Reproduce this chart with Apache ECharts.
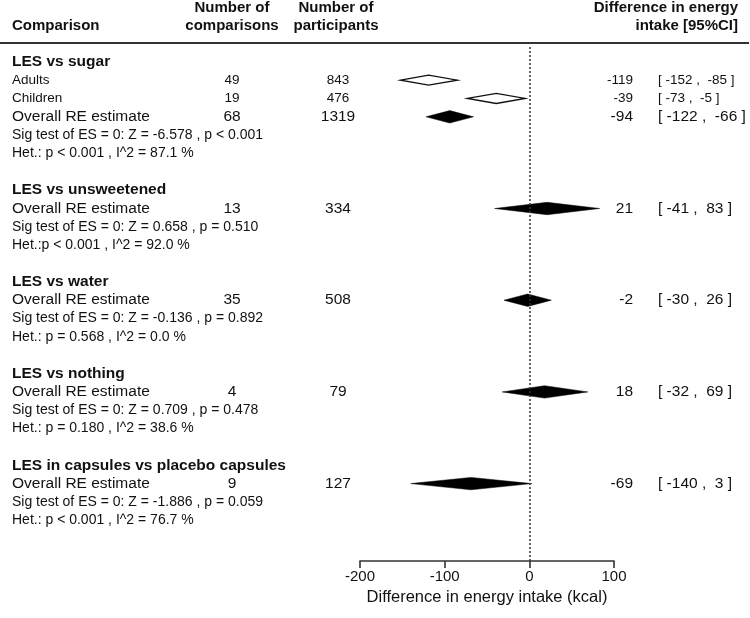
<!DOCTYPE html>
<html><head><meta charset="utf-8">
<script src="https://cdn.jsdelivr.net/npm/echarts@6/dist/echarts.min.js"></script>
<style>html,body{margin:0;padding:0;background:#fff}#c{width:750px;height:618px}</style>
</head><body><div id="c"></div>
<script>
// ---- data ----
const groupTitles = ["LES vs sugar", "LES vs unsweetened", "LES vs water", "LES vs nothing", "LES in capsules vs placebo capsules"];
const groupSig = [
  "Sig test of ES = 0: Z = -6.578 , p < 0.001",
  "Sig test of ES = 0: Z = 0.658 , p = 0.510",
  "Sig test of ES = 0: Z = -0.136 , p = 0.892",
  "Sig test of ES = 0: Z = 0.709 , p = 0.478",
  "Sig test of ES = 0: Z = -1.886 , p = 0.059"
];
const groupHet = [
  "Het.: p < 0.001 , I^2 = 87.1 %",
  "Het.:p < 0.001 , I^2 = 92.0 %",
  "Het.: p = 0.568 , I^2 = 0.0 %",
  "Het.: p = 0.180 , I^2 = 38.6 %",
  "Het.: p < 0.001 , I^2 = 76.7 %"
];
const estLabels = ["Adults", "Children", "Overall RE estimate", "Overall RE estimate", "Overall RE estimate", "Overall RE estimate", "Overall RE estimate"];
const estGroup = [0, 0, 0, 1, 2, 3, 4];
const estOverall = [false, false, true, true, true, true, true];
const nComparisons = [49, 19, 68, 13, 35, 4, 9];
const nParticipants = [843, 476, 1319, 334, 508, 79, 127];
const estimate = [-119, -39, -94, 21, -2, 18, -69];
const ciLower = [-152, -73, -122, -41, -30, -32, -140];
const ciUpper = [-85, -5, -66, 83, 26, 69, 3];
const xTickValues = [-200, -100, 0, 100];
const headerComparison = "Comparison";
const headerNComp = ["Number of", "comparisons"];
const headerNPart = ["Number of", "participants"];
const headerEffect = ["Difference in energy", "intake [95%CI]"];
const xAxisTitle = "Difference in energy intake (kcal)";

// ---- row layout ----
const titleRow = [], sigRow = [], hetRow = [], estRow = [];
let r = 0;
groupTitles.forEach((t, g) => {
  titleRow[g] = r++;
  estGroup.forEach((eg, i) => { if (eg === g) estRow[i] = r++; });
  sigRow[g] = r++;
  hetRow[g] = r++;
  r++;
});

const FONT = "'Liberation Sans', Arial, Helvetica, sans-serif";
const TXT = "#111";
const texts = [];
groupTitles.forEach((t, g) => {
  texts.push({row: titleRow[g], x: 12, align: 'left', text: t, size: 15.5, weight: 'bold'});
  texts.push({row: sigRow[g], x: 12, align: 'left', text: groupSig[g], size: 14, weight: 'normal'});
  texts.push({row: hetRow[g], x: 12, align: 'left', text: groupHet[g], size: 14, weight: 'normal'});
});
estLabels.forEach((lab, i) => {
  const s = estOverall[i] ? 15.5 : 13.5;
  const row = estRow[i];
  texts.push({row, x: 12, align: 'left', text: lab, size: s, weight: 'normal'});
  texts.push({row, x: 232, align: 'center', text: String(nComparisons[i]), size: s, weight: 'normal'});
  texts.push({row, x: 338, align: 'center', text: String(nParticipants[i]), size: s, weight: 'normal'});
  texts.push({row, x: 633, align: 'right', text: String(estimate[i]), size: s, weight: 'normal'});
  texts.push({row, x: 658, align: 'left', text: '[ ' + ciLower[i] + ' ,  ' + ciUpper[i] + ' ]', size: s, weight: 'normal'});
});

const diamonds = estimate.map((e, i) => [e, estRow[i], ciLower[i], ciUpper[i]]);

const chart = echarts.init(document.getElementById('c'), null, {renderer: 'canvas'});
chart.setOption({
  backgroundColor: '#fff',
  animation: false,
  grid: {left: 360, right: 136, top: 47, bottom: 57, containLabel: false},
  xAxis: {
    type: 'value', position: 'bottom',
    min: xTickValues[0], max: xTickValues[xTickValues.length - 1], interval: 100,
    axisLine: {show: true, onZero: false, lineStyle: {color: '#333', width: 1.6}},
    axisTick: {show: true, length: 7, lineStyle: {color: '#333', width: 1.6}},
    axisLabel: {color: TXT, fontSize: 15, fontFamily: FONT, margin: 8},
    splitLine: {show: false},
    name: xAxisTitle, nameLocation: 'middle', nameGap: 20,
    nameTextStyle: {color: TXT, fontSize: 16.5, fontFamily: FONT, verticalAlign: 'top'}
  },
  yAxis: {type: 'value', inverse: true, min: -0.807, max: 27.22, show: false},
  graphic: [
    {type: 'line', shape: {x1: 0, y1: 43, x2: 749, y2: 43}, style: {stroke: '#333', lineWidth: 2}},
    {type: 'text', x: 12, y: 26, style: {text: headerComparison, font: 'bold 15px ' + FONT, fill: TXT, align: 'left', verticalAlign: 'middle'}},
    {type: 'text', x: 232, y: 7.5, style: {text: headerNComp[0], font: 'bold 15px ' + FONT, fill: TXT, align: 'center', verticalAlign: 'middle'}},
    {type: 'text', x: 232, y: 26, style: {text: headerNComp[1], font: 'bold 15px ' + FONT, fill: TXT, align: 'center', verticalAlign: 'middle'}},
    {type: 'text', x: 336, y: 7.5, style: {text: headerNPart[0], font: 'bold 15px ' + FONT, fill: TXT, align: 'center', verticalAlign: 'middle'}},
    {type: 'text', x: 336, y: 26, style: {text: headerNPart[1], font: 'bold 15px ' + FONT, fill: TXT, align: 'center', verticalAlign: 'middle'}},
    {type: 'text', x: 738, y: 7.5, style: {text: headerEffect[0], font: 'bold 15px ' + FONT, fill: TXT, align: 'right', verticalAlign: 'middle'}},
    {type: 'text', x: 738, y: 26, style: {text: headerEffect[1], font: 'bold 15px ' + FONT, fill: TXT, align: 'right', verticalAlign: 'middle'}}
  ],
  series: [
    {
      type: 'custom', name: 'diamonds', clip: false,
      data: diamonds,
      renderItem: function (params, api) {
        const i = params.dataIndex;
        const est = api.value(0), row = api.value(1), lo = api.value(2), hi = api.value(3);
        const h = estOverall[i] ? 6.2 : 5;
        const pc = api.coord([est, row]);
        const pl = api.coord([lo, row]);
        const ph = api.coord([hi, row]);
        return {
          type: 'polygon',
          shape: {points: [[pl[0], pc[1]], [pc[0], pc[1] - h], [ph[0], pc[1]], [pc[0], pc[1] + h]]},
          style: estOverall[i] ? {fill: '#000', stroke: '#000', lineWidth: 0.5} : {fill: '#fff', stroke: '#111', lineWidth: 1.3}
        };
      },
      markLine: {
        silent: true, symbol: 'none', label: {show: false},
        lineStyle: {color: '#333', type: [2, 2], width: 1.5},
        data: [{xAxis: 0}]
      },
      z: 3
    },
    {
      type: 'custom', name: 'texts', clip: false,
      data: texts.map(t => [0, t.row]),
      renderItem: function (params, api) {
        const t = texts[params.dataIndex];
        const y = api.coord([0, api.value(1)])[1];
        return {
          type: 'text', x: t.x, y: y,
          style: {text: t.text, fill: TXT, fontSize: t.size, fontWeight: t.weight, fontFamily: FONT, align: t.align, verticalAlign: 'middle'}
        };
      },
      z: 4
    }
  ]
});
</script></body></html>
